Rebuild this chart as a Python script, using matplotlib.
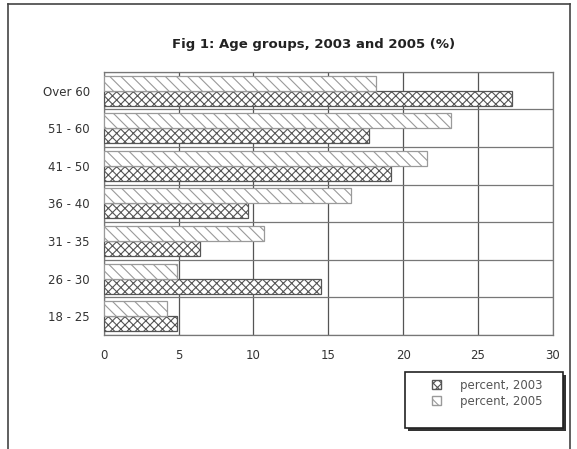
import numpy as np
import matplotlib.pyplot as plt
from matplotlib.patches import Patch, Rectangle

# Age groups (bottom to top as drawn)
groups = ["18 - 25", "26 - 30", "31 - 35", "36 - 40", "41 - 50", "51 - 60", "Over 60"]
pct_2003 = [4.9, 14.5, 6.4, 9.6, 19.2, 17.7, 27.3]
pct_2005 = [4.2, 4.9, 10.7, 16.5, 21.6, 23.2, 18.2]
xticks = [0, 5, 10, 15, 20, 25, 30]

plt.rcParams['hatch.linewidth'] = 0.8

fig = plt.figure(figsize=(5.77, 4.49), dpi=100)
ax = fig.add_axes([0.180, 0.254, 0.778, 0.586])

y = np.arange(len(groups))
h = 0.4
ax.barh(y - h / 2, pct_2003, height=h, color='white', edgecolor='#555555',
        hatch='xxxx', linewidth=0.9, label='percent, 2003', zorder=3)
ax.barh(y + h / 2, pct_2005, height=h, color='white', edgecolor='#9a9a9a',
        hatch='\\\\\\', linewidth=0.9, label='percent, 2005', zorder=3)

ax.set_xlim(0, 30)
ax.set_ylim(-0.5, len(groups) - 0.5)
ax.set_xticks(xticks)
ax.set_xticklabels([str(v) for v in xticks], fontsize=8.5, color='#333333')
ax.set_yticks(y)
ax.set_yticklabels(groups, fontsize=8.5, color='#333333')
ax.set_yticks(np.arange(len(groups) + 1) - 0.5, minor=True)
ax.tick_params(axis='both', which='both', length=0, pad=10)
ax.grid(True, axis='x', color='#555555', linewidth=0.9, zorder=0)
ax.grid(True, axis='y', which='minor', color='#777777', linewidth=0.9, zorder=0)
for s in ax.spines.values():
    s.set_color('#777777')
    s.set_linewidth(0.9)

fig.text(0.543, 0.90, "Fig 1: Age groups, 2003 and 2005 (%)", ha='center',
         va='center', fontsize=9.5, fontweight='bold', color='#222222')

# legend box with shadow
W, H = 577.0, 449.0
fig.add_artist(Rectangle((408 / W, 1 - 431 / H), 158 / W, 56 / H,
                         transform=fig.transFigure, facecolor='#333333',
                         edgecolor='none'))
fig.add_artist(Rectangle((405 / W, 1 - 428 / H), 158 / W, 56 / H,
                         transform=fig.transFigure, facecolor='white',
                         edgecolor='#222222', linewidth=1.2))

handles = [Patch(facecolor='white', edgecolor='#555555', hatch='xxxx'),
           Patch(facecolor='white', edgecolor='#9a9a9a', hatch='\\\\\\')]
leg = fig.legend(handles, ['percent, 2003', 'percent, 2005'],
                 loc='upper left', bbox_to_anchor=(432 / W, 1 - 379 / H),
                 fontsize=8.5, frameon=False, handlelength=0.8,
                 handleheight=0.8, borderpad=0, labelspacing=0.25,
                 handletextpad=1.6, borderaxespad=0)
for t in leg.get_texts():
    t.set_color('#555555')

# outer frame of the chart
fig.add_artist(plt.Line2D([0.014, 0.988], [0.991, 0.991], color='#444444', lw=1.2))
fig.add_artist(plt.Line2D([0.014, 0.014], [0.0, 0.991], color='#444444', lw=1.2))
fig.add_artist(plt.Line2D([0.988, 0.988], [0.0, 0.991], color='#444444', lw=1.2))

fig.savefig("out.png", dpi=100)
